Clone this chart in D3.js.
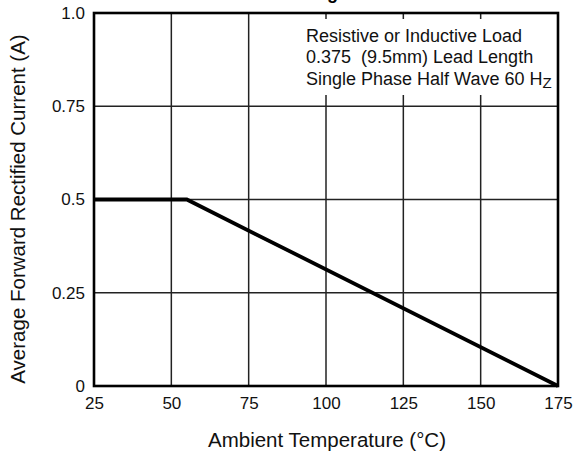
<!DOCTYPE html>
<html><head><meta charset="utf-8">
<script src="https://cdn.jsdelivr.net/npm/d3@7"></script>
<style>body{margin:0;background:#fff}svg{display:block;font-family:"Liberation Sans",Arial,sans-serif}</style>
</head><body>
<svg id="c" width="578" height="455"></svg>
<script>
const xTicks = [25, 50, 75, 100, 125, 150, 175];
const yTicks = [0, 0.25, 0.5, 0.75, 1.0];
const yTickLabels = ["0", "0.25", "0.5", "0.75", "1.0"];
const temps = [25, 55, 175];
const currents = [0.5, 0.5, 0];
const noteLines = ["Resistive or Inductive Load", "0.375  (9.5mm) Lead Length", "Single Phase Half Wave 60 H"];

const svg = d3.select("#c");
const L = 94, R = 558, T = 13, B = 386;
const x = d3.scaleLinear().domain([25, 175]).range([L, R]);
const y = d3.scaleLinear().domain([0, 1]).range([B, T]);

// title fragment (cut off at top, as in the reference)
svg.append("text").attr("x", 338).attr("y", -1).attr("text-anchor", "end")
  .attr("font-size", 18).attr("font-weight", "bold").text("Forward Current Derating");

// grid
const g = svg.append("g");
g.selectAll(".vg").data(xTicks.slice(1, -1)).enter().append("line")
  .attr("x1", d => x(d)).attr("x2", d => x(d)).attr("y1", T).attr("y2", B)
  .attr("stroke", "#222").attr("stroke-width", 1.5);
g.selectAll(".hg").data(yTicks.slice(1, -1)).enter().append("line")
  .attr("x1", L).attr("x2", R).attr("y1", d => y(d)).attr("y2", d => y(d))
  .attr("stroke", "#222").attr("stroke-width", 1.5);

// white box behind note
svg.append("rect").attr("x", 290).attr("y", 19).attr("width", R - 291).attr("height", 76).attr("fill", "#fff");

// frame
svg.append("rect").attr("x", L).attr("y", T).attr("width", R - L).attr("height", B - T)
  .attr("fill", "none").attr("stroke", "#000").attr("stroke-width", 2.6);

// axes labels via d3 axes
const xAxis = d3.axisBottom(x).tickValues(xTicks).tickSize(0).tickPadding(11).tickFormat(d3.format("d"));
const xa = svg.append("g").attr("transform", `translate(0,${B})`).call(xAxis);
xa.select(".domain").remove();
xa.selectAll("text").attr("font-size", 17).attr("fill", "#111").attr("font-family", "Liberation Sans, Arial, sans-serif");

const yAxis = d3.axisLeft(y).tickValues(yTicks).tickSize(0).tickPadding(9).tickFormat((d, i) => yTickLabels[i]);
const ya = svg.append("g").attr("transform", `translate(${L},0)`).call(yAxis);
ya.select(".domain").remove();
ya.selectAll("text").attr("font-size", 17).attr("fill", "#111").attr("font-family", "Liberation Sans, Arial, sans-serif");

// data line
const line = d3.line().x((d, i) => x(temps[i])).y((d, i) => y(currents[i]));
svg.append("path").datum(temps).attr("d", line).attr("fill", "none")
  .attr("stroke", "#000").attr("stroke-width", 3.8).attr("stroke-linejoin", "miter");

// note
const nt = svg.append("g").attr("font-size", 18).attr("fill", "#111").style("white-space", "pre");
noteLines.forEach((s, i) => {
  const t = nt.append("text").attr("x", 306).attr("y", 41.5 + i * 21.5).attr("xml:space", "preserve").text(s);
  if (i === 2) t.append("tspan").attr("font-size", 15).attr("dy", 3).text("Z");
});

// axis titles
svg.append("text").attr("x", 327).attr("y", 447).attr("text-anchor", "middle")
  .attr("font-size", 20.5).attr("fill", "#111").text("Ambient Temperature (°C)");
svg.append("text").attr("transform", `translate(25,209) rotate(-90)`).attr("text-anchor", "middle")
  .attr("font-size", 20.5).attr("fill", "#111").text("Average Forward Rectified Current (A)");
</script>
</body></html>
